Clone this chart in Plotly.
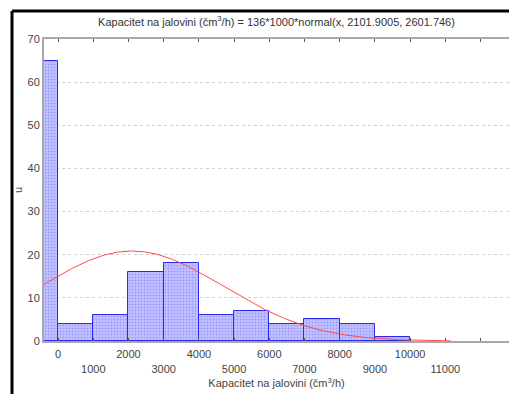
import numpy as np
import plotly.graph_objects as go

# ---- data ----
bin_edges = [-400, 0, 1000, 2000, 3000, 4000, 5000, 6000, 7000, 8000, 9000, 10000]
counts = [65, 4, 6, 16, 18, 6, 7, 4, 5, 4, 1]
n_total = 136
bin_width = 1000
fit_mean = 2101.9005
fit_sd = 2601.746
tick_values = list(range(0, 11001, 1000))
tick_labels = [("" if (v // 1000) % 2 == 0 else "<br>") + str(v) for v in tick_values]
y_ticks = list(range(0, 71, 10))

centers = [(bin_edges[i] + bin_edges[i + 1]) / 2 for i in range(len(counts))]
widths = [bin_edges[i + 1] - bin_edges[i] for i in range(len(counts))]

xc = np.linspace(-400, 11150, 400)
yc = n_total * bin_width * np.exp(-0.5 * ((xc - fit_mean) / fit_sd) ** 2) / (fit_sd * np.sqrt(2 * np.pi))

fig = go.Figure()
fig.add_trace(go.Bar(
    x=centers, y=counts, width=widths,
    marker=dict(color="#c4c4ff", line=dict(color="#2a2aee", width=1),
                pattern=dict(shape=".", fgcolor="#7070ff", bgcolor="#c4c4ff", size=3, solidity=0.35)),
    showlegend=False, hoverinfo="skip"))
fig.add_trace(go.Scatter(x=xc, y=yc, mode="lines", line=dict(color="#ff4a4a", width=1),
                         showlegend=False, hoverinfo="skip"))

font = "Liberation Sans, Arial, sans-serif"
fig.update_layout(
    width=509, height=394,
    margin=dict(l=44, r=0, t=39, b=53),
    paper_bgcolor="white", plot_bgcolor="white",
    font=dict(family=font, size=11, color="#444444"),
    bargap=0,
    title=dict(text="Kapacitet na jalovini (čm<sup>3</sup>/h) = 136*1000*normal(x, 2101.9005, 2601.746)",
               x=0.5, xref="paper", y=0.945, yanchor="middle", font=dict(size=11, color="#333333")),
    xaxis=dict(range=[-400, 12810], tickvals=tick_values, ticktext=tick_labels,
               showgrid=False, zeroline=False, showline=True, linecolor="#a8a8a8", linewidth=2,
               mirror="ticks", ticks="inside", ticklen=3, tickcolor="#555555",
               minor=dict(dtick=1000, tick0=0, ticks="inside", ticklen=3, tickcolor="#555555", showgrid=False),
               ticklabelstandoff=2,
               tickfont=dict(size=11, color="#444444"),
               title=dict(text="Kapacitet na jalovini (čm<sup>3</sup>/h)", standoff=6,
                          font=dict(size=11, color="#444444"))),
    yaxis=dict(range=[0, 70], tickvals=y_ticks, showgrid=True, gridcolor="#d0d0d0", griddash="dot",
               gridwidth=1, zeroline=False, showline=True, linecolor="#a8a8a8", linewidth=2,
               ticks="", tickfont=dict(size=11, color="#444444"),
               title=dict(text="u", standoff=3, font=dict(size=11, color="#444444"))),
    shapes=[
        dict(type="line", xref="paper", yref="paper", x0=-0.0688, x1=-0.0688, y0=1.0927, y1=-0.2,
             line=dict(color="black", width=3)),
        dict(type="line", xref="paper", yref="paper", x0=-0.0688, x1=1.05, y0=1.0927, y1=1.0927,
             line=dict(color="black", width=3)),
    ],
)
fig.write_html("out.html", config={"displayModeBar": False},
               post_script="document.body.style.margin='0px';")
